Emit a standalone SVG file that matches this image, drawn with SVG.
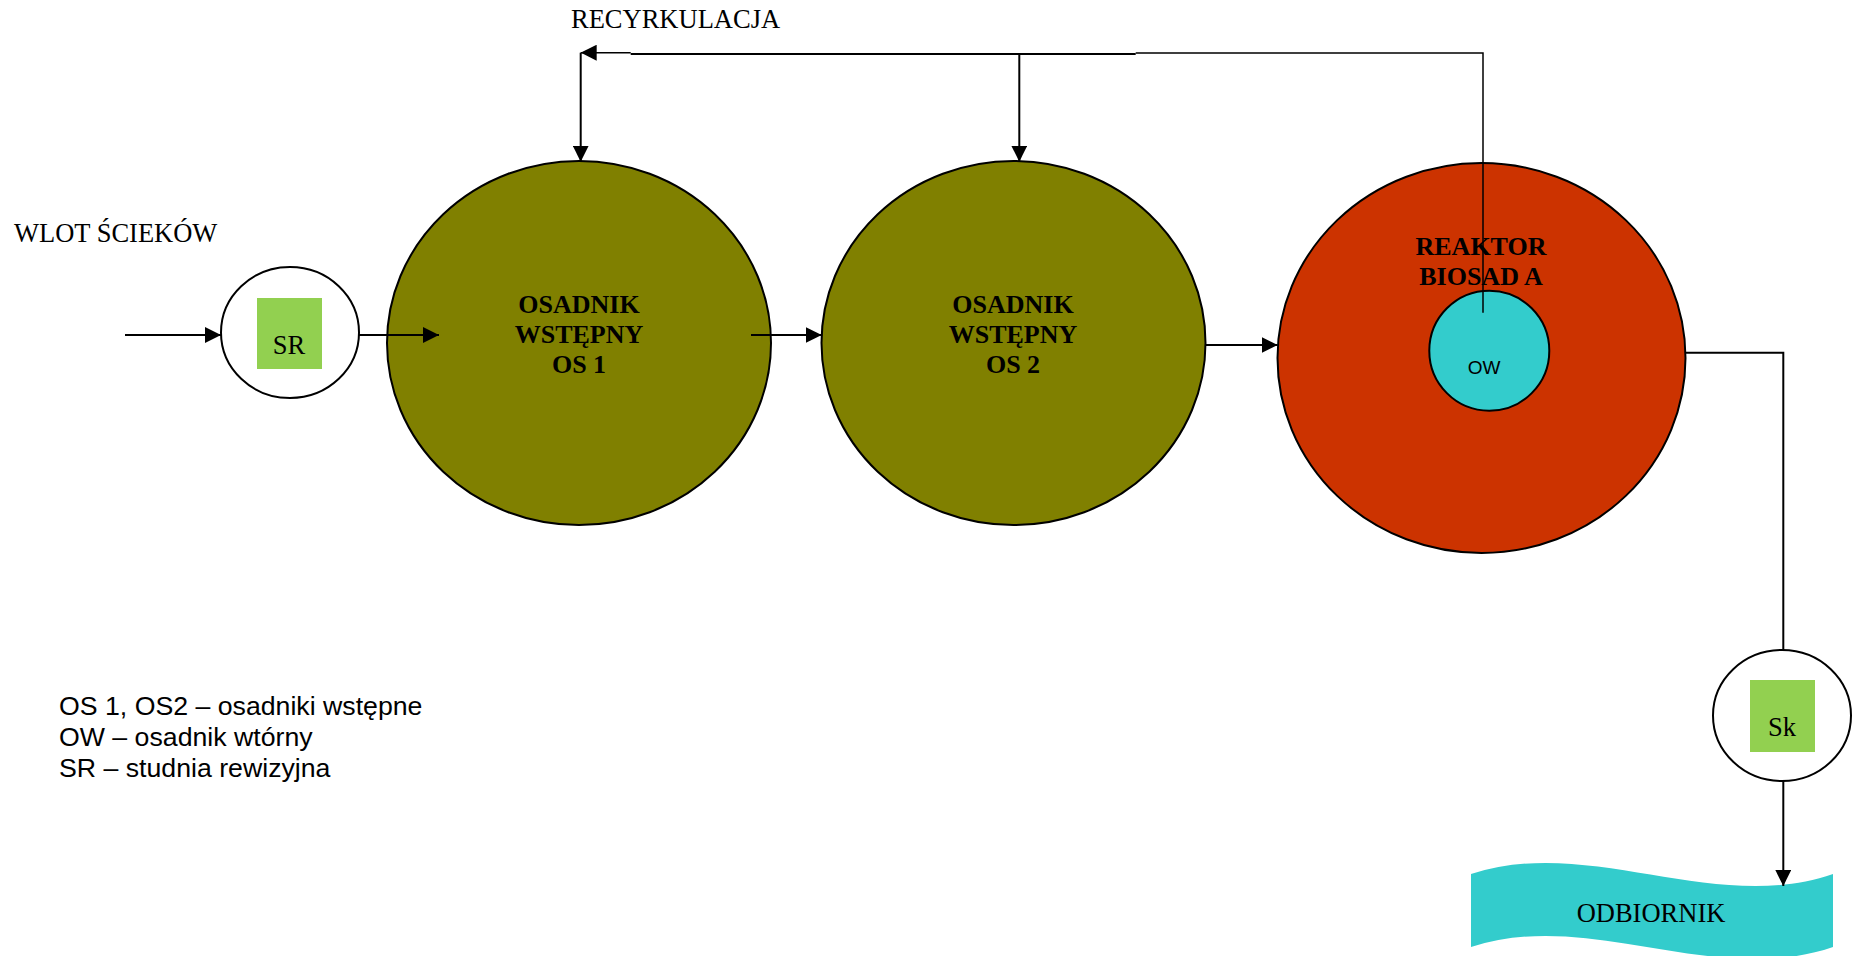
<svg xmlns="http://www.w3.org/2000/svg" width="1865" height="956" viewBox="0 0 1865 956">
<defs>
<marker id="arr" viewBox="0 0 16 16" refX="16" refY="8" markerWidth="16" markerHeight="16" markerUnits="userSpaceOnUse" orient="auto">
<path d="M0,0 L16,8 L0,16 Z" fill="#000"/>
</marker>
</defs>
<style>
.serif{font-family:"Liberation Serif","Times New Roman",serif;font-size:26.5px;fill:#000}
.bold{font-family:"Liberation Serif","Times New Roman",serif;font-size:26px;font-weight:bold;fill:#000;text-anchor:middle}
.sans{font-family:"Liberation Sans",Arial,sans-serif;fill:#000}
.conn{fill:none;stroke:#000;stroke-width:2}
.thin{fill:none;stroke:#000;stroke-width:1.5}
.shape{stroke:#000;stroke-width:2}
</style>
<rect width="1865" height="956" fill="#fff"/>
<text class="serif" x="14" y="242">WLOT ŚCIEKÓW</text>
<text class="serif" x="571" y="28">RECYRKULACJA</text>

<g id="os1">
<ellipse class="shape" cx="579" cy="343" rx="192" ry="182" fill="#808000"/>
<text class="bold" x="579" y="313">OSADNIK</text>
<text class="bold" x="579" y="343">WSTĘPNY</text>
<text class="bold" x="579" y="373">OS 1</text>
</g>
<g id="os2">
<ellipse class="shape" cx="1013.5" cy="343" rx="192" ry="182" fill="#808000"/>
<text class="bold" x="1013" y="313">OSADNIK</text>
<text class="bold" x="1013" y="343">WSTĘPNY</text>
<text class="bold" x="1013" y="373">OS 2</text>
</g>
<g id="reaktor">
<ellipse class="shape" cx="1481.5" cy="358" rx="204" ry="195" fill="#CC3300"/>
<text class="bold" x="1481" y="255">REAKTOR</text>
<text class="bold" x="1481" y="285">BIOSAD A</text>
</g>
<g id="ow">
<circle class="shape" cx="1489.3" cy="350.7" r="60" fill="#33CCCC"/>
<text class="sans" x="1484" y="374" font-size="19" text-anchor="middle">OW</text>
</g>
<g id="sr">
<ellipse class="shape" cx="290" cy="332.5" rx="69" ry="65.5" fill="#fff"/>
<rect x="257" y="298" width="65" height="71" fill="#92D050"/>
<text class="serif" x="289" y="354" text-anchor="middle">SR</text>
</g>
<g id="sk">
<ellipse class="shape" cx="1782" cy="715.5" rx="69" ry="65.5" fill="#fff"/>
<rect x="1750" y="680" width="65" height="72" fill="#92D050"/>
<text class="serif" x="1782" y="736" text-anchor="middle">Sk</text>
</g>
<g id="odbiornik">
<path d="M1471,874 C1590,835 1714,915 1833,874 L1833,947 C1714,988 1590,908 1471,947 Z" fill="#33CCCC"/>
<text class="serif" x="1651" y="922" text-anchor="middle">ODBIORNIK</text>
</g>
<g id="legend">
<text class="sans" font-size="26.7" x="59" y="715">OS 1, OS2 – osadniki wstępne</text>
<text class="sans" font-size="26.7" x="59" y="746">OW – osadnik wtórny</text>
<text class="sans" font-size="26.7" x="59" y="777">SR – studnia rewizyjna</text>
</g>

<g id="connectors">
<line class="conn" x1="125" y1="335" x2="221" y2="335" marker-end="url(#arr)"/>
<line class="conn" x1="359" y1="335" x2="439" y2="335" marker-end="url(#arr)"/>
<line class="conn" x1="751" y1="335" x2="821.7" y2="335" marker-end="url(#arr)"/>
<line class="conn" x1="1205" y1="345" x2="1277.7" y2="345" marker-end="url(#arr)"/>
<path class="thin" d="M1483,312.7 L1483,53 L1135.7,53"/>
<path class="conn" d="M1135.7,54 L630.7,54"/>
<line class="thin" x1="630.7" y1="52.7" x2="580.7" y2="52.7" marker-end="url(#arr)"/>
<line class="conn" x1="580.7" y1="52.7" x2="580.7" y2="161.7" marker-end="url(#arr)"/>
<line class="conn" x1="1019.3" y1="54" x2="1019.3" y2="161.7" marker-end="url(#arr)"/>
<path class="conn" d="M1685,352.7 L1783.3,352.7 L1783.3,650"/>
<line class="conn" x1="1783.3" y1="781" x2="1783.3" y2="886" marker-end="url(#arr)"/>
</g>
</svg>
